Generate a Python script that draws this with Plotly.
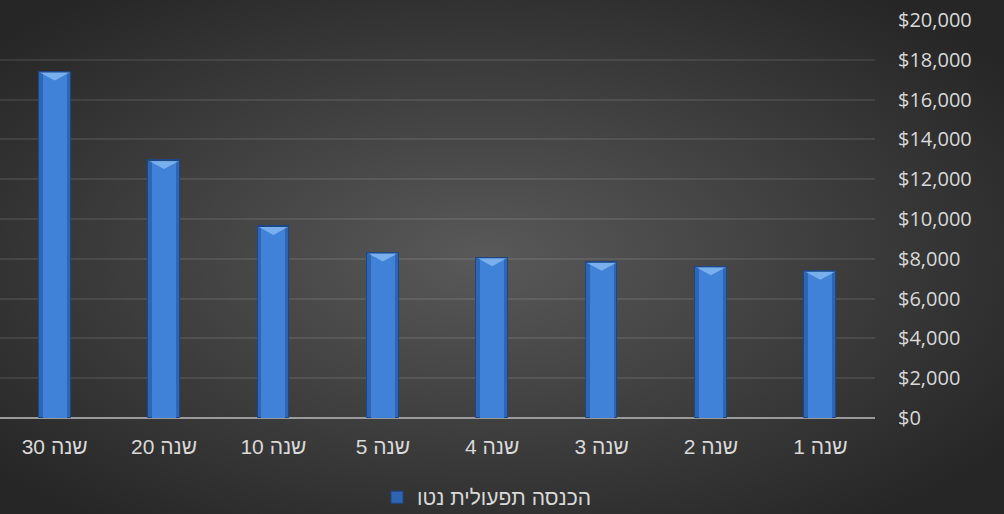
import base64
import plotly.graph_objects as go

# Net operating income by year
categories = ["שנה 1", "שנה 2", "שנה 3", "שנה 4", "שנה 5", "שנה 10", "שנה 20", "שנה 30"]
income = [7380, 7600, 7830, 8060, 8300, 9630, 12940, 17390]
series_name = "הכנסה תפעולית נטו"
y_ticks = [0, 2000, 4000, 6000, 8000, 10000, 12000, 14000, 16000, 18000, 20000]
y_labels = ["$" + f"{v:,}" for v in y_ticks]

W, H = 1004, 514
ML, MR, MT, MB = 0, 129, 20, 96
plot_h = H - MT - MB
plot_w = W - ML - MR

BAR_W = 0.29
INNER_W = 0.22
BEVEL = 430  # depth of the top bevel in value units

# radial-gradient backdrop, stretched over the whole figure
svg = (
    f'<svg xmlns="http://www.w3.org/2000/svg" width="{W}" height="{H}" viewBox="0 0 {W} {H}" preserveAspectRatio="none">'
    '<defs><radialGradient id="g" cx="48%" cy="50%" r="64%">'
    '<stop offset="0%" stop-color="#595959"/>'
    '<stop offset="100%" stop-color="#262626"/>'
    '</radialGradient></defs>'
    f'<rect width="{W}" height="{H}" fill="url(#g)"/></svg>'
)
bg_src = "data:image/svg+xml;base64," + base64.b64encode(svg.encode()).decode()

xs = list(range(len(categories)))

fig = go.Figure()
# outer (darker) bar body
fig.add_trace(go.Bar(
    x=xs, y=income, width=BAR_W, name=series_name,
    marker=dict(color="#2f66b4", line=dict(color="#1d4684", width=1)),
    showlegend=True,
))
# lighter face inside each bar
fig.add_trace(go.Bar(
    x=xs, y=income, width=INNER_W,
    marker=dict(color="#3f82d8", line=dict(width=0)),
    hoverinfo="skip", showlegend=False,
))

# light bevel on the top of each bar
for i, v in zip(xs, income):
    fig.add_trace(go.Scatter(
        x=[i - BAR_W / 2, i + BAR_W / 2, i, i - BAR_W / 2],
        y=[v, v, v - BEVEL, v],
        mode="lines", fill="toself",
        fillcolor="rgba(160,205,250,0.6)",
        line=dict(width=0), hoverinfo="skip", showlegend=False,
    ))
    fig.add_trace(go.Scatter(
        x=[i - BAR_W / 2, i + BAR_W / 2], y=[v, v],
        mode="lines", line=dict(color="#1d4684", width=1.2),
        hoverinfo="skip", showlegend=False,
    ))

fig.update_layout(
    width=W, height=H,
    margin=dict(l=ML, r=MR, t=MT, b=MB, autoexpand=False),
    paper_bgcolor="#3a3a3a",
    plot_bgcolor="rgba(0,0,0,0)",
    barmode="overlay",
    bargap=0,
    images=[dict(
        source=bg_src, xref="paper", yref="paper",
        x=-ML / plot_w, y=1 + MT / plot_h,
        sizex=W / plot_w, sizey=H / plot_h,
        xanchor="left", yanchor="top", sizing="stretch", layer="below",
    )],
    xaxis=dict(
        tickvals=xs, ticktext=categories,
        range=[len(categories) - 0.5, -0.5],
        showgrid=False, zeroline=False, showline=False, ticks="",
        ticklabelstandoff=14, automargin=False,
        tickfont=dict(family="Liberation Sans, Arial, sans-serif", size=21, color="#d9d9d9"),
    ),
    yaxis=dict(
        side="right", range=[0, 20000], tickvals=y_ticks, ticktext=y_labels,
        showgrid=True, gridcolor="rgba(255,255,255,0.09)", gridwidth=1.5,
        zeroline=True, zerolinecolor="#9a9a9a", zerolinewidth=2,
        showline=False, ticks="", ticklabelstandoff=22, automargin=False,
        tickfont=dict(family="Open Sans, sans-serif", size=20, color="#d9d9d9"),
    ),
    legend=dict(
        orientation="h", x=487 / plot_w, xanchor="center",
        y=-0.2, yanchor="middle", bgcolor="rgba(0,0,0,0)",
        font=dict(family="Liberation Sans, Arial, sans-serif", size=21, color="#d9d9d9"),
        itemwidth=30,
    ),
)

fig.write_html("out.html")
